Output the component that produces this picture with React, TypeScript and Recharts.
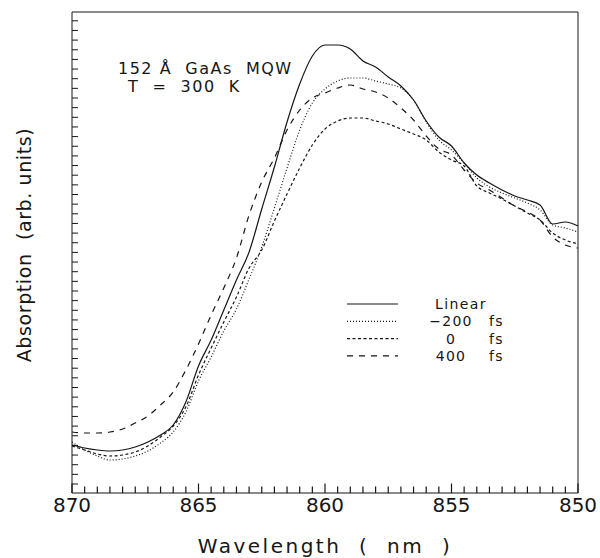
import { LineChart, Line, XAxis, YAxis, ReferenceLine } from "recharts"

// wavelength (nm), x axis runs from 870 down to 850
const wavelengths = [
  870, 869.5, 869, 868.5, 868, 867.5, 867, 866.5, 866, 865.5, 865, 864.5, 864, 863.5, 863, 862.5, 862, 861.5, 861,
  860.5, 860, 859.5, 859, 858.5, 858, 857.5, 857, 856.5, 856, 855.5, 855, 854.5, 854, 853.5, 853, 852.5, 852,
  851.5, 851, 850.5, 850,
]

const linear = [
  4.8, 4.5, 4.3, 4.2, 4.3, 4.6, 5.1, 5.8, 6.8, 9.1, 12.7, 15.3, 18.3, 21.3, 24.1, 28.4, 32.6, 37.1, 40.9, 43.7,
  44.8, 44.8, 44.4, 43.2, 42.6, 41.6, 40.7, 39.3, 37.2, 35.6, 34.7, 33.0, 31.8, 31.0, 30.3, 29.7, 29.3, 28.8, 26.9,
  27.1, 26.7,
]
const minus200fs = [
  5.1, 4.3, 3.7, 3.3, 3.4, 3.7, 4.2, 5.0, 6.1, 8.1, 11.2, 13.6, 16.2, 18.4, 21.4, 24.6, 28.5, 32.5, 36.3, 39.0,
  40.4, 41.2, 41.5, 41.5, 41.2, 40.9, 40.5, 39.3, 37.1, 35.3, 34.3, 33.0, 31.5, 30.6, 30.0, 29.5, 29.0, 28.3, 26.8,
  26.5, 26.1,
]
const zeroFs = [
  4.7, 4.3, 3.9, 3.7, 3.8, 4.1, 4.7, 5.6, 6.7, 8.6, 11.8, 14.5, 17.1, 19.6, 22.5, 24.3, 27.2, 29.9, 32.5, 34.8,
  36.4, 37.2, 37.5, 37.5, 37.2, 36.9, 36.4, 35.9, 35.3, 34.1, 33.3, 32.7, 30.7, 30.0, 29.4, 28.7, 28.0, 27.3, 26.0,
  25.3, 24.9,
]
const plus400fs = [
  6.1, 6.0, 6.0, 6.1, 6.4, 7.0, 7.7, 8.8, 10.1, 12.3, 14.9, 17.8, 20.5, 23.5, 27.8, 31.1, 33.5, 36.3, 38.3, 39.5,
  40.0, 40.5, 40.8, 40.4, 40.1, 39.5, 38.5, 37.3, 35.7, 34.4, 33.8, 32.3, 31.0, 30.3, 29.5, 28.7, 28.1, 27.3, 25.6,
  24.8, 24.5,
]

const majorTicks = [870, 865, 860, 855, 850]
const legendNumbers = ["", "\u2212200", "0", "400"]

const series = [
  { key: "linear", name: "Linear", dash: undefined, values: linear },
  { key: "m200", name: "\u2212200 fs", dash: "1 2", values: minus200fs },
  { key: "z0", name: "0 fs", dash: "3 2.5", values: zeroFs },
  { key: "p400", name: "400 fs", dash: "6 6", values: plus400fs },
]

const data = wavelengths.map((wl, i) => {
  const row: Record<string, number> = { wl }
  series.forEach((s) => (row[s.key] = s.values[i]))
  return row
})

// inward tick marks: every 0.5 nm on x, evenly spaced on y (no labels)
const minorTicks = Array.from({ length: 41 }, (_, i) => 850 + i * 0.5)
const yTicks = Array.from({ length: 49 }, (_, i) => 0.9 + i * 0.965)

const font = "'DejaVu Sans', sans-serif"
const ink = "#161616"

const renderXTick = (props: any) => {
  const { x, y, payload } = props
  return (
    <text key={`xt-${payload.value}`} x={x} y={y + 19} textAnchor="middle" fontSize={20} fontFamily={font} fill={ink}>
      {payload.value}
    </text>
  )
}

const renderYTick = (props: any) => {
  const { x, y, payload } = props
  return <path key={`yt-${payload.value}`} d={`M${x},${y}H${x + 6}`} stroke={ink} strokeWidth={1} fill="none" />
}

export default function App() {
  return (
    <div style={{ position: "absolute", left: 0, top: 0, width: 600, height: 558, background: "#fff" }}>
      <LineChart width={600} height={558} data={data} margin={{ top: 0, right: 0, left: 0, bottom: 0 }}>
        <XAxis
          dataKey="wl"
          type="number"
          domain={[850, 870]}
          reversed
          ticks={majorTicks}
          interval={0}
          tickSize={0}
          tickMargin={0}
          tickLine={false}
          tick={renderXTick}
          height={65}
          stroke={ink}
        />
        <XAxis
          xAxisId="top"
          orientation="top"
          type="number"
          domain={[850, 870]}
          height={12}
          tick={false}
          tickLine={false}
          stroke={ink}
        />
        <YAxis
          type="number"
          domain={[0, 48.1]}
          ticks={yTicks}
          interval={0}
          width={72}
          tickSize={0}
          tickMargin={0}
          tickLine={false}
          tick={renderYTick}
          stroke={ink}
        />
        <YAxis yAxisId="right" orientation="right" domain={[0, 1]} width={22} tick={false} tickLine={false} stroke={ink} />
        {minorTicks.map((v) => (
          <ReferenceLine
            key={`xm-${v}`}
            segment={[
              { x: v, y: 0 },
              { x: v, y: majorTicks.includes(v) ? 0.95 : 0.65 },
            ]}
            stroke={ink}
            strokeWidth={1.2}
            ifOverflow="visible"
          />
        ))}
        {series.map((s) => (
          <Line
            key={s.key}
            dataKey={s.key}
            name={s.name}
            stroke={ink}
            strokeWidth={1.2}
            strokeDasharray={s.dash}
            dot={false}
            activeDot={false}
            type="monotone"
            isAnimationActive={false}
          />
        ))}
        <text x={118} y={74} fontSize={16} fontFamily={font} fill={ink} letterSpacing={1.5} style={{ whiteSpace: "pre" }}>
          {"152 \u00c5  GaAs  MQW"}
        </text>
        <text x={128} y={92} fontSize={16} fontFamily={font} fill={ink} letterSpacing={1.5} style={{ whiteSpace: "pre" }}>
          {"T  =  300  K"}
        </text>
        {series.map((s, i) => (
          <g key={s.key}>
            <line x1={347} x2={398} y1={304 + i * 17.3} y2={304 + i * 17.3} stroke={ink} strokeWidth={1.2} strokeDasharray={s.dash} />
            {i === 0 ? (
              <text x={435} y={309} fontSize={14} fontFamily={font} fill={ink} letterSpacing={1.4}>
                {s.name}
              </text>
            ) : (
              <>
                <text x={451} y={309 + i * 17.3} textAnchor="middle" fontSize={14} fontFamily={font} fill={ink} letterSpacing={1.2}>
                  {legendNumbers[i]}
                </text>
                <text x={489} y={309 + i * 17.3} fontSize={14} fontFamily={font} fill={ink} letterSpacing={1.2}>
                  fs
                </text>
              </>
            )}
          </g>
        ))}
        <text
          x={24}
          y={245}
          transform="rotate(-90 24 245)"
          textAnchor="middle"
          dominantBaseline="central"
          fontSize={19}
          fontFamily={font}
          fill={ink}
          letterSpacing={0.6}
          style={{ whiteSpace: "pre" }}
        >
          {"Absorption  (arb. units)"}
        </text>
        <text x={325} y={553} textAnchor="middle" fontSize={20} fontFamily={font} fill={ink} letterSpacing={2.5} style={{ whiteSpace: "pre" }}>
          {"Wavelength  (  nm  )"}
        </text>
      </LineChart>
    </div>
  )
}
